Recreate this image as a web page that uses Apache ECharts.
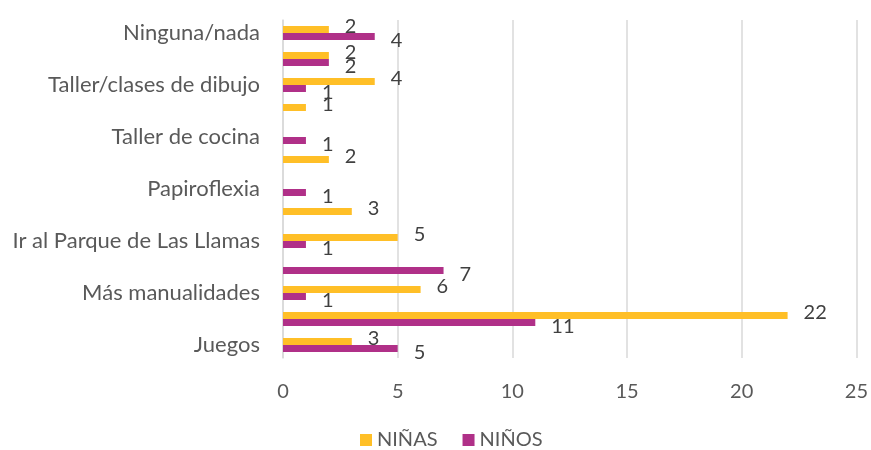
<!DOCTYPE html>
<html>
<head>
<meta charset="utf-8">
<script src="https://cdn.jsdelivr.net/npm/echarts@6/dist/echarts.min.js"></script>
<style>
html, body { margin: 0; padding: 0; background: #fff; }
#chart { width: 871px; height: 450px; }
</style>
</head>
<body>
<div id="chart"></div>
<script>
// categories bottom to top (Excel shows only every other label)
var categories = ['Juegos', '', 'Más manualidades', '', 'Ir al Parque de Las Llamas', '',
    'Papiroflexia', '', 'Taller de cocina', '', 'Taller/clases de dibujo', '', 'Ninguna/nada'];
var ninas = [3, 22, 6, '-', 5, 3, '-', 2, '-', 1, 4, 2, 2];
var ninos = [5, 11, 1, 7, 1, '-', 1, '-', 1, '-', 1, 2, 4];
var xTicks = [0, 5, 10, 15, 20, 25];

var font = 'Lato, "Open Sans", sans-serif';

function labelOpt(dy) {
    return {
        show: true,
        position: 'right',
        distance: 16,
        offset: [0, dy],
        color: '#404040',
        fontFamily: font,
        fontSize: 20
    };
}

var chart = echarts.init(document.getElementById('chart'));
chart.setOption({
    backgroundColor: '#fff',
    animation: false,
    textStyle: { fontFamily: font },
    grid: {
        left: 283,
        right: 13,
        top: 20,
        bottom: 92
    },
    legend: {
        top: 425,
        left: 355,
        itemWidth: 12,
        itemHeight: 12,
        itemGap: 25,
        icon: 'rect',
        textStyle: { color: '#595959', fontSize: 20, fontFamily: font },
        data: ['NIÑAS', 'NIÑOS']
    },
    xAxis: {
        type: 'value',
        min: xTicks[0],
        max: xTicks[xTicks.length - 1],
        interval: 5,
        axisLine: { show: false },
        axisTick: { show: false },
        splitLine: { lineStyle: { color: '#d9d9d9', width: 1.5 } },
        axisLabel: { color: '#595959', fontSize: 20, margin: 24, fontFamily: font }
    },
    yAxis: {
        type: 'category',
        data: categories,
        axisLine: { show: true, lineStyle: { color: '#d9d9d9', width: 1.5 } },
        axisTick: { show: false },
        axisLabel: { interval: 1, color: '#595959', fontSize: 22, margin: 23, fontFamily: font }
    },
    series: [
        {
            name: 'NIÑAS',
            type: 'bar',
            data: ninas,
            barWidth: 7,
            barGap: '0%',
            itemStyle: { color: '#FFBF27' },
            label: labelOpt(-3)
        },
        {
            name: 'NIÑOS',
            type: 'bar',
            data: ninos,
            barWidth: 7,
            barGap: '0%',
            itemStyle: { color: '#B03088' },
            label: labelOpt(4)
        }
    ]
});
</script>
</body>
</html>
